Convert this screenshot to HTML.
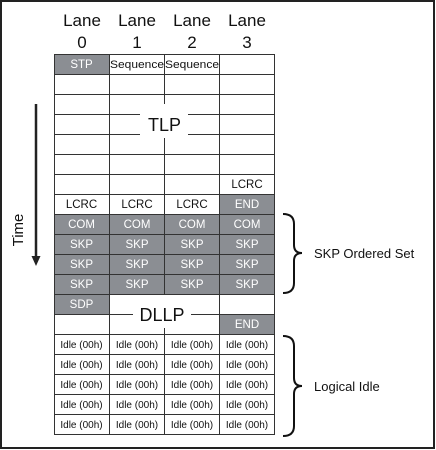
<!DOCTYPE html>
<html><head><meta charset="utf-8"><style>
html,body{margin:0;padding:0;background:#fff}
svg{display:block}
text{font-family:"Liberation Sans",Arial,sans-serif}
</style></head><body>
<svg width="436" height="450" viewBox="0 0 436 450" xmlns="http://www.w3.org/2000/svg">
<rect x="1" y="1" width="433" height="447" fill="#fff" stroke="#222" stroke-width="2"/>
<g font-size="17" fill="#111" text-anchor="middle">
<text x="82" y="26">Lane</text><text x="82" y="48">0</text>
<text x="137" y="26">Lane</text><text x="137" y="48">1</text>
<text x="192" y="26">Lane</text><text x="192" y="48">2</text>
<text x="247" y="26">Lane</text><text x="247" y="48">3</text>
</g>
<g fill="#8b8e93">
<rect x="54" y="54" width="55" height="20"/>
<rect x="219.5" y="194" width="55.5" height="20"/>
<rect x="54" y="214" width="221" height="80"/>
<rect x="54" y="294" width="55" height="20"/>
<rect x="219.5" y="314" width="55.5" height="20"/>
</g>
<g stroke="#333" stroke-width="1" fill="none">
<rect x="54.5" y="54.5" width="220" height="380"/>
<path d="M109.5 54V434M164.5 54V434M219.5 54V434"/>
<path d="M54 74.5H275M54 94.5H275M54 114.5H275M54 134.5H275M54 154.5H275M54 174.5H275M54 194.5H275M54 214.5H275M54 234.5H275M54 254.5H275M54 274.5H275M54 294.5H275M54 314.5H275M54 334.5H275M54 354.5H275M54 374.5H275M54 394.5H275M54 414.5H275"/>
</g>
<rect x="140" y="104" width="48" height="34" fill="#fff"/>
<rect x="110" y="295" width="109" height="19" fill="#fff"/>
<rect x="133" y="300" width="58" height="28" fill="#fff"/>
<g font-size="18" fill="#111" text-anchor="middle">
<text x="164.5" y="131">TLP</text>
<text x="162" y="321">DLLP</text>
</g>
<g font-size="11.5" text-anchor="middle" fill="#fff">
<text x="81.5" y="68">STP</text>
<text x="247" y="208">END</text>
<text x="81.5" y="228">COM</text><text x="137" y="228">COM</text><text x="192" y="228">COM</text><text x="247" y="228">COM</text>
<text x="81.5" y="248">SKP</text><text x="137" y="248">SKP</text><text x="192" y="248">SKP</text><text x="247" y="248">SKP</text>
<text x="81.5" y="268">SKP</text><text x="137" y="268">SKP</text><text x="192" y="268">SKP</text><text x="247" y="268">SKP</text>
<text x="81.5" y="288">SKP</text><text x="137" y="288">SKP</text><text x="192" y="288">SKP</text><text x="247" y="288">SKP</text>
<text x="81.5" y="308">SDP</text>
<text x="247" y="328">END</text>
</g>
<g font-size="11.5" text-anchor="middle" fill="#111">
<text x="137" y="68" font-size="11" textLength="54" lengthAdjust="spacingAndGlyphs">Sequence</text>
<text x="192" y="68" font-size="11" textLength="54" lengthAdjust="spacingAndGlyphs">Sequence</text>
<text x="247" y="188">LCRC</text>
<text x="81.5" y="208">LCRC</text><text x="137" y="208">LCRC</text><text x="192" y="208">LCRC</text>
</g>
<g font-size="10" text-anchor="middle" fill="#111">
<text x="81.5" y="348">Idle (00h)</text><text x="137" y="348">Idle (00h)</text><text x="192" y="348">Idle (00h)</text><text x="247" y="348">Idle (00h)</text>
<text x="81.5" y="368">Idle (00h)</text><text x="137" y="368">Idle (00h)</text><text x="192" y="368">Idle (00h)</text><text x="247" y="368">Idle (00h)</text>
<text x="81.5" y="388">Idle (00h)</text><text x="137" y="388">Idle (00h)</text><text x="192" y="388">Idle (00h)</text><text x="247" y="388">Idle (00h)</text>
<text x="81.5" y="408">Idle (00h)</text><text x="137" y="408">Idle (00h)</text><text x="192" y="408">Idle (00h)</text><text x="247" y="408">Idle (00h)</text>
<text x="81.5" y="428">Idle (00h)</text><text x="137" y="428">Idle (00h)</text><text x="192" y="428">Idle (00h)</text><text x="247" y="428">Idle (00h)</text>
</g>
<line x1="36" y1="104" x2="36" y2="258" stroke="#222" stroke-width="2.5"/>
<path d="M31.5 256 L40.5 256 L36 266 Z" fill="#222"/>
<text x="0" y="0" font-size="15" fill="#111" text-anchor="middle" transform="translate(23,230) rotate(-90)">Time</text>
<g stroke="#111" stroke-width="2" fill="none">
<path d="M283 214 Q294 214 294 224 L294 245 Q294 253 302 253 Q294 253 294 261 L294 283 Q294 293 283 293"/>
<path d="M283 336 Q294 336 294 346 L294 378 Q294 386 302 386 Q294 386 294 394 L294 426 Q294 436 283 436"/>
</g>
<g font-size="13" fill="#111">
<text x="314" y="258">SKP Ordered Set</text>
<text x="314" y="391">Logical Idle</text>
</g>
</svg>
</body></html>
